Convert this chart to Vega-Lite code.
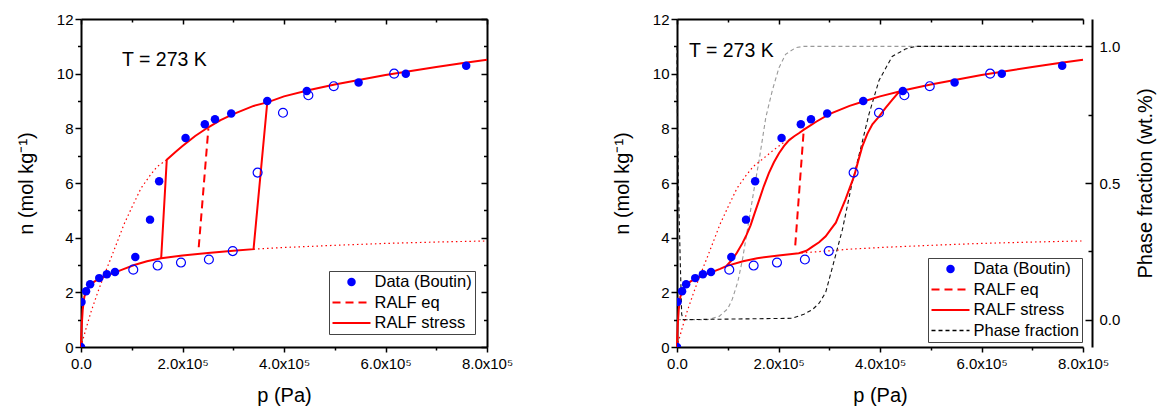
{
  "$schema": "https://vega.github.io/schema/vega-lite/v6.json",
  "padding": {"left": 16, "top": 12, "right": 5, "bottom": 2},
  "spacing": 99,
  "config": {
    "view": {"stroke": null},
    "font": "Liberation Sans",
    "axis": {
      "labelFont": "Liberation Sans", "titleFont": "Liberation Sans",
      "labelFontSize": 15, "titleFontSize": 20, "titleFontWeight": "normal",
      "labelColor": "#000", "titleColor": "#000", "domainColor": "#000", "tickColor": "#000",
      "domainWidth": 2, "tickWidth": 1.5, "grid": false, "labelFlush": false, "labelOverlap": false, "labelBound": false
    },
    "legend": {
      "title": null, "strokeColor": "#444", "fillColor": "#ffffff", "padding": 2.5,
      "labelFont": "Liberation Sans", "labelFontSize": 16.5, "labelColor": "#000",
      "clipHeight": 17, "rowPadding": 3.5, "labelOffset": 3
    }
  },
  "datasets": {
    "filledL": [
      {"series":"Data (Boutin)","p":0,"n":0},{"series":"Data (Boutin)","p":1000,"n":1.65},{"series":"Data (Boutin)","p":10000,"n":2.04},
      {"series":"Data (Boutin)","p":18000,"n":2.3},{"series":"Data (Boutin)","p":36000,"n":2.52},{"series":"Data (Boutin)","p":51000,"n":2.66},
      {"series":"Data (Boutin)","p":67000,"n":2.74},{"series":"Data (Boutin)","p":107000,"n":3.29},{"series":"Data (Boutin)","p":136000,"n":4.66},
      {"series":"Data (Boutin)","p":154000,"n":6.06},{"series":"Data (Boutin)","p":206000,"n":7.65},{"series":"Data (Boutin)","p":244000,"n":8.15},
      {"series":"Data (Boutin)","p":264000,"n":8.33},{"series":"Data (Boutin)","p":296000,"n":8.54},{"series":"Data (Boutin)","p":367000,"n":9.0},
      {"series":"Data (Boutin)","p":445000,"n":9.37},{"series":"Data (Boutin)","p":547000,"n":9.68},{"series":"Data (Boutin)","p":640000,"n":10.0},
      {"series":"Data (Boutin)","p":759000,"n":10.29}
    ],
    "open": [
      {"p":103000,"n":2.83},{"p":151000,"n":2.98},{"p":197000,"n":3.09},{"p":252000,"n":3.2},{"p":299000,"n":3.51},
      {"p":348000,"n":6.38},{"p":398000,"n":8.57},{"p":448000,"n":9.21},{"p":498000,"n":9.54},{"p":617000,"n":10.0}
    ],
    "linesL": [
      {"series":"RALF stress","seg":"a","p":0,"n":0},{"series":"RALF stress","seg":"a","p":500,"n":0.4},
      {"series":"RALF stress","seg":"a","p":1300,"n":0.74},{"series":"RALF stress","seg":"a","p":3300,"n":1.35},
      {"series":"RALF stress","seg":"a","p":6600,"n":1.84},{"series":"RALF stress","seg":"a","p":13000,"n":2.15},
      {"series":"RALF stress","seg":"a","p":26000,"n":2.39},{"series":"RALF stress","seg":"a","p":40000,"n":2.53},
      {"series":"RALF stress","seg":"a","p":52500,"n":2.63},{"series":"RALF stress","seg":"a","p":70000,"n":2.75},
      {"series":"RALF stress","seg":"a","p":85000,"n":2.86},{"series":"RALF stress","seg":"a","p":105000,"n":3.0},
      {"series":"RALF stress","seg":"a","p":130000,"n":3.14},{"series":"RALF stress","seg":"a","p":158000,"n":3.25},
      {"series":"RALF stress","seg":"a","p":200000,"n":3.35},{"series":"RALF stress","seg":"a","p":250000,"n":3.44},
      {"series":"RALF stress","seg":"a","p":300000,"n":3.52},{"series":"RALF stress","seg":"a","p":340000,"n":3.58},
      {"series":"RALF stress","seg":"a","p":367000,"n":8.95},{"series":"RALF stress","seg":"a","p":400000,"n":9.17},
      {"series":"RALF stress","seg":"a","p":450000,"n":9.4},{"series":"RALF stress","seg":"a","p":500000,"n":9.6},
      {"series":"RALF stress","seg":"a","p":550000,"n":9.78},{"series":"RALF stress","seg":"a","p":600000,"n":9.95},
      {"series":"RALF stress","seg":"a","p":650000,"n":10.1},{"series":"RALF stress","seg":"a","p":700000,"n":10.24},
      {"series":"RALF stress","seg":"a","p":750000,"n":10.38},{"series":"RALF stress","seg":"a","p":800000,"n":10.51},
      {"series":"RALF stress","seg":"b","p":158000,"n":3.25},{"series":"RALF stress","seg":"b","p":169000,"n":6.85},
      {"series":"RALF stress","seg":"b","p":185000,"n":7.12},{"series":"RALF stress","seg":"b","p":200000,"n":7.35},
      {"series":"RALF stress","seg":"b","p":225000,"n":7.72},{"series":"RALF stress","seg":"b","p":250000,"n":8.03},
      {"series":"RALF stress","seg":"b","p":275000,"n":8.3},{"series":"RALF stress","seg":"b","p":300000,"n":8.52},
      {"series":"RALF stress","seg":"b","p":340000,"n":8.82},{"series":"RALF stress","seg":"b","p":367000,"n":8.95},
      {"series":"RALF eq","seg":"c","p":232000,"n":3.65},{"series":"RALF eq","seg":"c","p":251000,"n":8.0}
    ],
    "linesR": [
      {"series":"RALF stress","seg":"a","p":0,"n":0},{"series":"RALF stress","seg":"a","p":500,"n":0.4},
      {"series":"RALF stress","seg":"a","p":1300,"n":0.74},{"series":"RALF stress","seg":"a","p":3300,"n":1.35},
      {"series":"RALF stress","seg":"a","p":6600,"n":1.84},{"series":"RALF stress","seg":"a","p":13000,"n":2.15},
      {"series":"RALF stress","seg":"a","p":26000,"n":2.39},{"series":"RALF stress","seg":"a","p":40000,"n":2.53},
      {"series":"RALF stress","seg":"a","p":52500,"n":2.63},{"series":"RALF stress","seg":"a","p":70000,"n":2.75},
      {"series":"RALF stress","seg":"a","p":85000,"n":2.86},{"series":"RALF stress","seg":"a","p":97000,"n":2.96},
      {"series":"RALF stress","seg":"a","p":109000,"n":3.2},{"series":"RALF stress","seg":"a","p":118000,"n":3.45},
      {"series":"RALF stress","seg":"a","p":129000,"n":3.8},{"series":"RALF stress","seg":"a","p":137000,"n":4.1},
      {"series":"RALF stress","seg":"a","p":145000,"n":4.45},{"series":"RALF stress","seg":"a","p":153000,"n":4.9},
      {"series":"RALF stress","seg":"a","p":162000,"n":5.38},{"series":"RALF stress","seg":"a","p":171000,"n":5.88},
      {"series":"RALF stress","seg":"a","p":181000,"n":6.36},{"series":"RALF stress","seg":"a","p":191000,"n":6.76},
      {"series":"RALF stress","seg":"a","p":201000,"n":7.09},{"series":"RALF stress","seg":"a","p":211000,"n":7.36},
      {"series":"RALF stress","seg":"a","p":221000,"n":7.57},{"series":"RALF stress","seg":"a","p":231000,"n":7.71},
      {"series":"RALF stress","seg":"a","p":240000,"n":7.82},{"series":"RALF stress","seg":"a","p":250000,"n":7.95},
      {"series":"RALF stress","seg":"a","p":260000,"n":8.07},{"series":"RALF stress","seg":"a","p":275000,"n":8.25},
      {"series":"RALF stress","seg":"a","p":300000,"n":8.52},{"series":"RALF stress","seg":"a","p":340000,"n":8.82},
      {"series":"RALF stress","seg":"a","p":367000,"n":8.98},{"series":"RALF stress","seg":"a","p":400000,"n":9.17},
      {"series":"RALF stress","seg":"a","p":450000,"n":9.4},{"series":"RALF stress","seg":"a","p":500000,"n":9.6},
      {"series":"RALF stress","seg":"a","p":550000,"n":9.78},{"series":"RALF stress","seg":"a","p":600000,"n":9.95},
      {"series":"RALF stress","seg":"a","p":650000,"n":10.1},{"series":"RALF stress","seg":"a","p":700000,"n":10.24},
      {"series":"RALF stress","seg":"a","p":750000,"n":10.38},{"series":"RALF stress","seg":"a","p":800000,"n":10.51},
      {"series":"RALF stress","seg":"b","p":97000,"n":2.96},{"series":"RALF stress","seg":"b","p":130000,"n":3.14},
      {"series":"RALF stress","seg":"b","p":158000,"n":3.25},{"series":"RALF stress","seg":"b","p":200000,"n":3.35},
      {"series":"RALF stress","seg":"b","p":240000,"n":3.43},{"series":"RALF stress","seg":"b","p":255000,"n":3.52},
      {"series":"RALF stress","seg":"b","p":267000,"n":3.67},{"series":"RALF stress","seg":"b","p":280000,"n":3.83},
      {"series":"RALF stress","seg":"b","p":293000,"n":4.05},{"series":"RALF stress","seg":"b","p":303000,"n":4.3},
      {"series":"RALF stress","seg":"b","p":313000,"n":4.55},{"series":"RALF stress","seg":"b","p":322000,"n":4.95},
      {"series":"RALF stress","seg":"b","p":332000,"n":5.4},{"series":"RALF stress","seg":"b","p":340000,"n":5.8},
      {"series":"RALF stress","seg":"b","p":349000,"n":6.25},{"series":"RALF stress","seg":"b","p":357000,"n":6.8},
      {"series":"RALF stress","seg":"b","p":365000,"n":7.33},{"series":"RALF stress","seg":"b","p":375000,"n":7.8},
      {"series":"RALF stress","seg":"b","p":385000,"n":8.15},{"series":"RALF stress","seg":"b","p":398000,"n":8.43},
      {"series":"RALF stress","seg":"b","p":411000,"n":8.75},{"series":"RALF stress","seg":"b","p":424000,"n":9.04},
      {"series":"RALF stress","seg":"b","p":435000,"n":9.28},{"series":"RALF stress","seg":"b","p":447000,"n":9.39},
      {"series":"RALF eq","seg":"c","p":233000,"n":3.72},{"series":"RALF eq","seg":"c","p":250000,"n":8.0}
    ],
    "dotL": [
      {"seg":"u","p":0,"n":0},{"seg":"u","p":5000,"n":0.35},{"seg":"u","p":10000,"n":0.68},{"seg":"u","p":20000,"n":1.3},
      {"seg":"u","p":33000,"n":2.0},{"seg":"u","p":45000,"n":2.6},{"seg":"u","p":59000,"n":3.25},{"seg":"u","p":70000,"n":3.78},
      {"seg":"u","p":85000,"n":4.5},{"seg":"u","p":100000,"n":5.1},{"seg":"u","p":118000,"n":5.8},{"seg":"u","p":135000,"n":6.25},
      {"seg":"u","p":150000,"n":6.6},{"seg":"u","p":169000,"n":6.85},
      {"seg":"l","p":340000,"n":3.58},{"seg":"l","p":400000,"n":3.64},{"seg":"l","p":500000,"n":3.72},
      {"seg":"l","p":600000,"n":3.79},{"seg":"l","p":700000,"n":3.84},{"seg":"l","p":800000,"n":3.88}
    ],
    "dotR": [
      {"seg":"u","p":0,"n":0},{"seg":"u","p":5000,"n":0.35},{"seg":"u","p":10000,"n":0.68},{"seg":"u","p":20000,"n":1.3},
      {"seg":"u","p":33000,"n":2.0},{"seg":"u","p":45000,"n":2.6},{"seg":"u","p":59000,"n":3.25},{"seg":"u","p":70000,"n":3.78},
      {"seg":"u","p":85000,"n":4.5},{"seg":"u","p":100000,"n":5.1},{"seg":"u","p":118000,"n":5.8},{"seg":"u","p":135000,"n":6.25},
      {"seg":"u","p":150000,"n":6.6},{"seg":"u","p":169000,"n":6.88},{"seg":"u","p":190000,"n":7.2},{"seg":"u","p":215000,"n":7.55},
      {"seg":"l","p":245000,"n":3.44},{"seg":"l","p":300000,"n":3.52},{"seg":"l","p":340000,"n":3.58},{"seg":"l","p":400000,"n":3.64},
      {"seg":"l","p":500000,"n":3.72},{"seg":"l","p":600000,"n":3.79},{"seg":"l","p":700000,"n":3.84},{"seg":"l","p":800000,"n":3.88}
    ],
    "phase": [
      {"curve":"ads","p":0,"f":0},{"curve":"ads","p":60000,"f":0},{"curve":"ads","p":83000,"f":0.012},
      {"curve":"ads","p":100000,"f":0.04},{"curve":"ads","p":109000,"f":0.075},{"curve":"ads","p":120000,"f":0.14},
      {"curve":"ads","p":129000,"f":0.22},{"curve":"ads","p":137000,"f":0.31},{"curve":"ads","p":145000,"f":0.4},
      {"curve":"ads","p":153000,"f":0.49},{"curve":"ads","p":162000,"f":0.585},{"curve":"ads","p":175000,"f":0.74},
      {"curve":"ads","p":188000,"f":0.84},{"curve":"ads","p":201000,"f":0.922},{"curve":"ads","p":214000,"f":0.971},
      {"curve":"ads","p":234000,"f":0.995},{"curve":"ads","p":250000,"f":1.0},{"curve":"ads","p":800000,"f":1.0},
      {"curve":"des","p":0,"f":1.0},{"curve":"des","p":500,"f":0.8},{"curve":"des","p":2600,"f":0.5},
      {"curve":"des","p":5900,"f":0.25},{"curve":"des","p":9200,"f":0.02},{"curve":"des","p":12000,"f":0},
      {"curve":"des","p":227000,"f":0.005},{"curve":"des","p":250000,"f":0.02},{"curve":"des","p":267000,"f":0.037},
      {"curve":"des","p":280000,"f":0.06},{"curve":"des","p":293000,"f":0.1},{"curve":"des","p":306000,"f":0.19},
      {"curve":"des","p":326000,"f":0.33},{"curve":"des","p":345000,"f":0.5},{"curve":"des","p":365000,"f":0.65},
      {"curve":"des","p":378000,"f":0.75},{"curve":"des","p":398000,"f":0.875},{"curve":"des","p":424000,"f":0.963},
      {"curve":"des","p":450000,"f":0.99},{"curve":"des","p":470000,"f":1.0},{"curve":"des","p":800000,"f":1.0}
    ],
    "noteL": [{"p":80800,"n":10.28,"label":"T = 273 K"}],
    "noteR": [{"p":23600,"n":10.61,"label":"T = 273 K"}]
  },
  "hconcat": [
    {
      "width": 406, "height": 328,
      "layer": [
        {
          "data": {"name": "dotL"},
          "mark": {"type": "line", "color": "#ff0000", "strokeWidth": 1.2, "strokeDash": [1.5, 3]},
          "encoding": {
            "x": {"field": "p", "type": "quantitative", "scale": {"domain": [0, 800000], "nice": false},
                  "axis": {"orient": "bottom", "values": [100000, 300000, 500000, 700000], "labels": false, "domain": false, "tickSize": 3, "title": null}},
            "y": {"field": "n", "type": "quantitative", "scale": {"domain": [0, 12], "nice": false},
                  "axis": {"orient": "left", "values": [1, 3, 5, 7, 9, 11], "labels": false, "domain": false, "tickSize": 3.5, "title": null}},
            "detail": {"field": "seg"}
          }
        },
        {
          "data": {"name": "linesL"},
          "transform": [{"filter": "datum.series === 'RALF stress'"}],
          "mark": {"type": "line", "color": "#ff0000", "strokeWidth": 2},
          "encoding": {
            "x": {"field": "p", "type": "quantitative", "scale": {"domain": [0, 800000], "nice": false},
                  "axis": {"orient": "bottom", "values": [0, 200000, 400000, 600000, 800000],
                           "labelExpr": "datum.value == 0 ? '0.0' : format(datum.value / 100000, '.1f') + 'x10⁵'",
                           "tickSize": 5, "labelPadding": 4, "title": "p (Pa)", "titlePadding": 14}},
            "y": {"field": "n", "type": "quantitative", "scale": {"domain": [0, 12], "nice": false},
                  "axis": {"orient": "left", "values": [0, 2, 4, 6, 8, 10, 12], "format": "d", "tickSize": 6, "labelPadding": 2,
                           "title": "n (mol kg⁻¹)", "titlePadding": 20}},
            "detail": {"field": "seg"}
          }
        },
        {
          "data": {"name": "linesL"},
          "transform": [{"filter": "datum.series === 'RALF eq'"}],
          "mark": {"type": "line", "color": "#ff0000", "strokeWidth": 2, "strokeDash": [8, 5]},
          "encoding": {
            "x": {"field": "p", "type": "quantitative", "scale": {"domain": [0, 800000], "nice": false}, "axis": null},
            "y": {"field": "n", "type": "quantitative", "scale": {"domain": [0, 12], "nice": false}, "axis": null}
          }
        },
        {
          "data": {"name": "open"},
          "mark": {"type": "point", "shape": "circle", "filled": false, "stroke": "#0000ff", "strokeWidth": 1.2, "size": 80, "opacity": 1},
          "encoding": {
            "x": {"field": "p", "type": "quantitative", "scale": {"domain": [0, 800000], "nice": false},
                  "axis": {"orient": "top", "values": [100000, 300000, 500000, 700000], "labels": false, "domain": false, "tickSize": -3, "title": null}},
            "y": {"field": "n", "type": "quantitative", "scale": {"domain": [0, 12], "nice": false},
                  "axis": {"orient": "right", "values": [1, 3, 5, 7, 9, 11], "labels": false, "domain": false, "tickSize": -3.5, "title": null}}
          }
        },
        {
          "data": {"name": "filledL"},
          "mark": {"type": "point", "filled": true, "opacity": 1, "clip": true},
          "encoding": {
            "x": {"field": "p", "type": "quantitative", "scale": {"domain": [0, 800000], "nice": false},
                  "axis": {"orient": "top", "values": [0, 200000, 400000, 600000, 800000], "labels": false, "domain": true, "tickSize": -5, "title": null}},
            "y": {"field": "n", "type": "quantitative", "scale": {"domain": [0, 12], "nice": false},
                  "axis": {"orient": "right", "values": [0, 2, 4, 6, 8, 10, 12], "labels": false, "domain": true, "tickSize": -6, "title": null}},
            "fill": {"field": "series", "type": "nominal",
                     "scale": {"domain": ["Data (Boutin)", "RALF eq", "RALF stress"], "range": ["#0000ff", "#ff0000", "#ff0000"]},
                     "legend": {"title": null, "orient": "none", "legendX": 248, "legendY": 252}},
            "stroke": {"field": "series", "type": "nominal",
                       "scale": {"domain": ["Data (Boutin)", "RALF eq", "RALF stress"], "range": ["#0000ff", "#ff0000", "#ff0000"]},
                       "legend": {"title": null, "orient": "none", "legendX": 248, "legendY": 252}},
            "shape": {"field": "series", "type": "nominal",
                      "scale": {"domain": ["Data (Boutin)", "RALF eq", "RALF stress"], "range": ["circle", "stroke", "stroke"]},
                      "legend": {"title": null, "orient": "none", "legendX": 248, "legendY": 252}},
            "size": {"field": "series", "type": "nominal",
                     "scale": {"type": "ordinal", "domain": ["Data (Boutin)", "RALF eq", "RALF stress"], "range": [72, 1444, 1444]},
                     "legend": {"title": null, "orient": "none", "legendX": 248, "legendY": 252}},
            "strokeWidth": {"field": "series", "type": "nominal",
                            "scale": {"type": "ordinal", "domain": ["Data (Boutin)", "RALF eq", "RALF stress"], "range": [0, 2, 2]},
                            "legend": {"title": null, "orient": "none", "legendX": 248, "legendY": 252}},
            "strokeDash": {"field": "series", "type": "nominal",
                           "scale": {"domain": ["Data (Boutin)", "RALF eq", "RALF stress"], "range": [[1, 0], [8, 5], [1, 0]]},
                           "legend": {"title": null, "orient": "none", "legendX": 248, "legendY": 252}}
          }
        },
        {
          "data": {"name": "noteL"},
          "mark": {"type": "text", "align": "left", "baseline": "alphabetic", "fontSize": 19.5, "color": "#000"},
          "encoding": {
            "x": {"field": "p", "type": "quantitative", "scale": {"domain": [0, 800000], "nice": false}, "axis": null},
            "y": {"field": "n", "type": "quantitative", "scale": {"domain": [0, 12], "nice": false}, "axis": null},
            "text": {"field": "label"}
          }
        }
      ],
      "resolve": {"axis": {"x": "independent", "y": "independent"}}
    },
    {
      "width": 406, "height": 328,
      "layer": [
        {
          "data": {"name": "phase"},
          "transform": [{"filter": "datum.curve === 'ads'"}],
          "mark": {"type": "line", "color": "#999999", "strokeWidth": 1.1, "strokeDash": [4, 3]},
          "encoding": {
            "x": {"field": "p", "type": "quantitative", "scale": {"domain": [0, 800000], "nice": false}, "axis": null},
            "y": {"field": "f", "type": "quantitative", "scale": {"domain": [-0.1, 1.1], "nice": false, "zero": false},
                  "axis": {"orient": "right", "offset": 9, "values": [0, 0.5, 1], "format": ".1f", "tickSize": -7, "labelPadding": 14,
                           "title": "Phase fraction (wt.%)", "titlePadding": 16, "titleAngle": 270, "titleBaseline": "top"}}
          }
        },
        {
          "data": {"name": "phase"},
          "transform": [{"filter": "datum.curve === 'des'"}],
          "mark": {"type": "line", "color": "#111111", "strokeWidth": 1.1, "strokeDash": [4, 3]},
          "encoding": {
            "x": {"field": "p", "type": "quantitative", "scale": {"domain": [0, 800000], "nice": false}, "axis": null},
            "y": {"field": "f", "type": "quantitative", "scale": {"domain": [-0.1, 1.1], "nice": false, "zero": false},
                  "axis": {"orient": "right", "offset": 9, "values": [0.25, 0.75], "labels": false, "domain": false, "tickSize": -4, "title": null}}
          }
        },
        {
          "data": {"name": "dotR"},
          "mark": {"type": "line", "color": "#ff0000", "strokeWidth": 1.2, "strokeDash": [1.5, 3]},
          "encoding": {
            "x": {"field": "p", "type": "quantitative", "scale": {"domain": [0, 800000], "nice": false},
                  "axis": {"orient": "bottom", "values": [100000, 300000, 500000, 700000], "labels": false, "domain": false, "tickSize": 3, "title": null}},
            "y": {"field": "n", "type": "quantitative", "scale": {"domain": [0, 12], "nice": false},
                  "axis": {"orient": "left", "values": [1, 3, 5, 7, 9, 11], "labels": false, "domain": false, "tickSize": 3.5, "title": null}},
            "detail": {"field": "seg"}
          }
        },
        {
          "data": {"name": "linesR"},
          "transform": [{"filter": "datum.series === 'RALF stress'"}],
          "mark": {"type": "line", "color": "#ff0000", "strokeWidth": 2},
          "encoding": {
            "x": {"field": "p", "type": "quantitative", "scale": {"domain": [0, 800000], "nice": false},
                  "axis": {"orient": "bottom", "values": [0, 200000, 400000, 600000, 800000],
                           "labelExpr": "datum.value == 0 ? '0.0' : format(datum.value / 100000, '.1f') + 'x10⁵'",
                           "tickSize": 5, "labelPadding": 4, "title": "p (Pa)", "titlePadding": 14}},
            "y": {"field": "n", "type": "quantitative", "scale": {"domain": [0, 12], "nice": false},
                  "axis": {"orient": "left", "values": [0, 2, 4, 6, 8, 10, 12], "format": "d", "tickSize": 6, "labelPadding": 2,
                           "title": "n (mol kg⁻¹)", "titlePadding": 20}},
            "detail": {"field": "seg"}
          }
        },
        {
          "data": {"name": "linesR"},
          "transform": [{"filter": "datum.series === 'RALF eq'"}],
          "mark": {"type": "line", "color": "#ff0000", "strokeWidth": 2, "strokeDash": [8, 5]},
          "encoding": {
            "x": {"field": "p", "type": "quantitative", "scale": {"domain": [0, 800000], "nice": false}, "axis": null},
            "y": {"field": "n", "type": "quantitative", "scale": {"domain": [0, 12], "nice": false}, "axis": null}
          }
        },
        {
          "data": {"name": "open"},
          "mark": {"type": "point", "shape": "circle", "filled": false, "stroke": "#0000ff", "strokeWidth": 1.2, "size": 80, "opacity": 1},
          "encoding": {
            "x": {"field": "p", "type": "quantitative", "scale": {"domain": [0, 800000], "nice": false},
                  "axis": {"orient": "top", "values": [100000, 300000, 500000, 700000], "labels": false, "domain": false, "tickSize": -3, "title": null}},
            "y": {"field": "n", "type": "quantitative", "scale": {"domain": [0, 12], "nice": false}, "axis": null}
          }
        },
        {
          "data": {"name": "filledL"},
          "mark": {"type": "point", "filled": true, "opacity": 1, "clip": true},
          "encoding": {
            "x": {"field": "p", "type": "quantitative", "scale": {"domain": [0, 800000], "nice": false},
                  "axis": {"orient": "top", "values": [0, 200000, 400000, 600000, 800000], "labels": false, "domain": true, "tickSize": -5, "title": null}},
            "y": {"field": "n", "type": "quantitative", "scale": {"domain": [0, 12], "nice": false}, "axis": null},
            "fill": {"field": "series", "type": "nominal",
                     "scale": {"domain": ["Data (Boutin)", "RALF eq", "RALF stress", "Phase fraction"], "range": ["#0000ff", "#ff0000", "#ff0000", "#000000"]},
                     "legend": {"title": null, "orient": "none", "legendX": 251, "legendY": 239}},
            "stroke": {"field": "series", "type": "nominal",
                       "scale": {"domain": ["Data (Boutin)", "RALF eq", "RALF stress", "Phase fraction"], "range": ["#0000ff", "#ff0000", "#ff0000", "#000000"]},
                       "legend": {"title": null, "orient": "none", "legendX": 251, "legendY": 239}},
            "shape": {"field": "series", "type": "nominal",
                      "scale": {"domain": ["Data (Boutin)", "RALF eq", "RALF stress", "Phase fraction"], "range": ["circle", "stroke", "stroke", "stroke"]},
                      "legend": {"title": null, "orient": "none", "legendX": 251, "legendY": 239}},
            "size": {"field": "series", "type": "nominal",
                     "scale": {"type": "ordinal", "domain": ["Data (Boutin)", "RALF eq", "RALF stress", "Phase fraction"], "range": [72, 1444, 1444, 1444]},
                     "legend": {"title": null, "orient": "none", "legendX": 251, "legendY": 239}},
            "strokeWidth": {"field": "series", "type": "nominal",
                            "scale": {"type": "ordinal", "domain": ["Data (Boutin)", "RALF eq", "RALF stress", "Phase fraction"], "range": [0, 2, 2, 1.3]},
                            "legend": {"title": null, "orient": "none", "legendX": 251, "legendY": 239}},
            "strokeDash": {"field": "series", "type": "nominal",
                           "scale": {"domain": ["Data (Boutin)", "RALF eq", "RALF stress", "Phase fraction"], "range": [[1, 0], [8, 5], [1, 0], [4, 3]]},
                           "legend": {"title": null, "orient": "none", "legendX": 251, "legendY": 239}}
          }
        },
        {
          "data": {"name": "noteR"},
          "mark": {"type": "text", "align": "left", "baseline": "alphabetic", "fontSize": 19.5, "color": "#000"},
          "encoding": {
            "x": {"field": "p", "type": "quantitative", "scale": {"domain": [0, 800000], "nice": false}, "axis": null},
            "y": {"field": "n", "type": "quantitative", "scale": {"domain": [0, 12], "nice": false}, "axis": null},
            "text": {"field": "label"}
          }
        }
      ],
      "resolve": {"scale": {"y": "independent"}, "axis": {"x": "independent", "y": "independent"}}
    }
  ],
  "resolve": {"scale": {"fill": "independent", "stroke": "independent", "shape": "independent", "size": "independent", "strokeWidth": "independent", "strokeDash": "independent"}}
}
